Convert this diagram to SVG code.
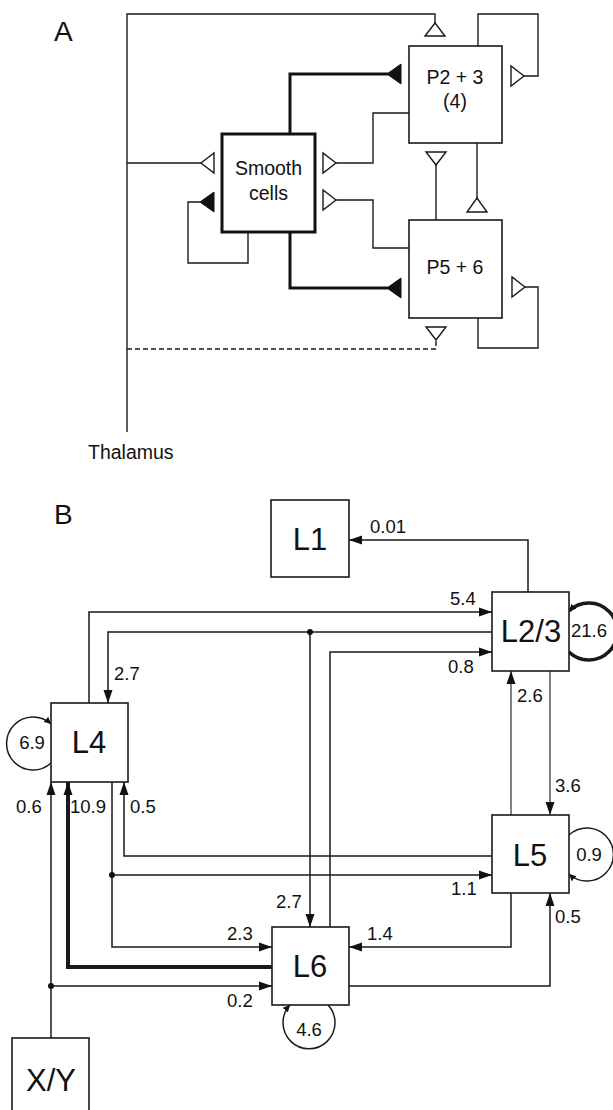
<svg xmlns="http://www.w3.org/2000/svg" width="613" height="1110" viewBox="0 0 613 1110">
<style>
text{font-family:"Liberation Sans",Arial,sans-serif;fill:#111}
.box{fill:#fff;stroke:#1a1a1a;stroke-width:1.6}
.thickbox{fill:#fff;stroke:#111;stroke-width:3}
.ln{fill:none;stroke:#1a1a1a;stroke-width:1.4}
.thk{fill:none;stroke:#111;stroke-width:3}
.dash{fill:none;stroke:#1a1a1a;stroke-width:1.4;stroke-dasharray:5,3}
.open{fill:#fff;stroke:#1a1a1a;stroke-width:1.4;stroke-linejoin:miter}
.filled{fill:#111;stroke:#111;stroke-width:1}
.bl{fill:none;stroke:#1a1a1a;stroke-width:1.5}
.lbl{font-size:18.5px}
.big{font-size:31px}
.mid{font-size:19.5px}
.dot{fill:#111}
</style>
<defs>
<marker id="arr" markerUnits="userSpaceOnUse" markerWidth="14" markerHeight="10" refX="13" refY="5" orient="auto">
<path d="M0,0.5 L13,5 L0,9.5 z" fill="#111"/>
</marker>
<marker id="sarr" markerUnits="userSpaceOnUse" markerWidth="8" markerHeight="8" refX="7" refY="4" orient="auto">
<path d="M0,0.5 L7,4 L0,7.5 z" fill="#111"/>
</marker>
</defs>

<!-- Panel A -->
<text x="54" y="41" style="font-size:28px">A</text>
<text x="88" y="459" class="mid">Thalamus</text>

<g id="connectorsA">
<path class="ln" d="M127,432 V14 H435 V23"/>
<polygon class="open" points="435,23 425,36 445,36"/>
<path class="ln" d="M127,163 H201"/>
<polygon class="open" points="201,163 214,153 214,173"/>
<path class="dash" d="M127,349 H436 V340"/>
<polygon class="open" points="436,340 426,327 446,327"/>
<path class="thk" d="M290,133 V74 H388"/>
<polygon class="filled" points="387,74 401,64 401,84"/>
<path class="thk" d="M290,232 V288 H388"/>
<polygon class="filled" points="387,288 401,278 401,298"/>
<path class="ln" d="M248,232 V263 H188 V202 H200"/>
<polygon class="filled" points="200,202 214,192 214,212"/>
<path class="ln" d="M409,113 H373 V163 H336"/>
<polygon class="open" points="336,163 323,153 323,173"/>
<path class="ln" d="M409,248 H373 V200 H336"/>
<polygon class="open" points="336,200 323,190 323,210"/>
<path class="ln" d="M477,143 V198"/>
<polygon class="open" points="477,198 467,212 487,212"/>
<path class="ln" d="M436,220 V165"/>
<polygon class="open" points="436,165 426,152 446,152"/>
<path class="ln" d="M478,46 V14 H538 V76 H524"/>
<polygon class="open" points="524,76 511,66 511,86"/>
<path class="ln" d="M478,318 V348 H538 V287 H525"/>
<polygon class="open" points="525,287 512,277 512,297"/>
</g>

<g id="smooth">
<rect class="thickbox" x="222" y="134" width="93" height="98"/>
<text x="268.5" y="175" class="mid" text-anchor="middle">Smooth</text>
<text x="268.5" y="200" class="mid" text-anchor="middle">cells</text>
</g>
<g id="p23">
<rect class="box" x="409" y="46" width="93" height="97"/>
<text x="455" y="84" class="mid" text-anchor="middle">P2 + 3</text>
<text x="455" y="108" class="mid" text-anchor="middle">(4)</text>
</g>
<g id="p56">
<rect class="box" x="409" y="220" width="93" height="98"/>
<text x="455" y="274" class="mid" text-anchor="middle">P5 + 6</text>
</g>

<!-- Panel B -->
<text x="54" y="524" style="font-size:28px">B</text>

<g id="connectorsB">
<path class="bl" d="M89,703 V612 H492" marker-end="url(#arr)"/>
<path class="bl" d="M492,632 H108 V703" marker-end="url(#arr)"/>
<path class="bl" d="M310,632 V927" marker-end="url(#arr)"/>
<path class="bl" d="M330,927 V652 H492" marker-end="url(#arr)"/>
<path class="bl" d="M528,592 V540 H349" marker-end="url(#arr)"/>
<path class="bl" style="stroke-width:1.1" d="M511,815 V671" marker-end="url(#arr)"/>
<path class="bl" style="stroke-width:1.1" d="M550,671 V815" marker-end="url(#arr)"/>
<path class="bl" d="M511,893 V947 H349" marker-end="url(#arr)"/>
<path class="bl" d="M349,986 H550 V893" marker-end="url(#arr)"/>
<path class="bl" d="M492,856 H124 V782" marker-end="url(#arr)"/>
<path class="bl" d="M112,782 V947 H272" marker-end="url(#arr)"/>
<path class="bl" d="M112,875 H492" marker-end="url(#arr)"/>
<path class="bl" style="stroke-width:4" d="M272,967 H68 V782" marker-end="url(#arr)"/>
<path class="bl" d="M51,1038 V782" marker-end="url(#arr)"/>
<path class="bl" d="M51,986 H272" marker-end="url(#arr)"/>
<circle class="dot" cx="310" cy="632" r="3"/>
<circle class="dot" cx="112" cy="875" r="3"/>
<circle class="dot" cx="51" cy="986" r="3"/>
<!-- self loops -->
<path class="bl" style="stroke-width:3.5" d="M569,652 A28.5,28.5 0 1 0 569,611" marker-end="url(#sarr)"/>
<path class="bl" d="M51,763 A26.5,26.5 0 1 1 51,724" marker-end="url(#sarr)"/>
<path class="bl" d="M569,835 A26.5,26.5 0 1 1 569,874" marker-end="url(#sarr)"/>
<path class="bl" d="M328,1005 A26,26 0 1 1 290,1005" marker-end="url(#sarr)"/>
</g>

<g id="labelsB">
<text x="370" y="533" class="lbl">0.01</text>
<text x="450" y="605" class="lbl">5.4</text>
<text x="448" y="673" class="lbl">0.8</text>
<text x="114" y="680" class="lbl">2.7</text>
<text x="589" y="637" class="lbl" text-anchor="middle">21.6</text>
<text x="517" y="702" class="lbl">2.6</text>
<text x="555" y="792" class="lbl">3.6</text>
<text x="32" y="749" class="lbl" text-anchor="middle">6.9</text>
<text x="16" y="813" class="lbl">0.6</text>
<text x="70" y="813" class="lbl">10.9</text>
<text x="130" y="813" class="lbl">0.5</text>
<text x="589" y="861" class="lbl" text-anchor="middle">0.9</text>
<text x="451" y="895" class="lbl">1.1</text>
<text x="276" y="908" class="lbl">2.7</text>
<text x="555" y="923" class="lbl">0.5</text>
<text x="227" y="940" class="lbl">2.3</text>
<text x="367" y="940" class="lbl">1.4</text>
<text x="227" y="1007" class="lbl">0.2</text>
<text x="309" y="1036" class="lbl" text-anchor="middle">4.6</text>
</g>

<g id="L1">
<rect class="box" x="271" y="500" width="78" height="77"/>
<text x="310" y="550" class="big" text-anchor="middle">L1</text>
</g>
<g id="L23">
<rect class="box" x="492" y="592" width="77" height="79"/>
<text x="531" y="642" class="big" text-anchor="middle">L2/3</text>
</g>
<g id="L4">
<rect class="box" x="51" y="703" width="77" height="79"/>
<text x="89" y="753" class="big" text-anchor="middle">L4</text>
</g>
<g id="L5">
<rect class="box" x="492" y="815" width="77" height="78"/>
<text x="530" y="866" class="big" text-anchor="middle">L5</text>
</g>
<g id="L6">
<rect class="box" x="272" y="927" width="77" height="78"/>
<text x="310" y="977" class="big" text-anchor="middle">L6</text>
</g>
<g id="XY">
<rect class="box" x="12" y="1038" width="77" height="80"/>
<text x="51" y="1091" class="big" text-anchor="middle">X/Y</text>
</g>
</svg>
